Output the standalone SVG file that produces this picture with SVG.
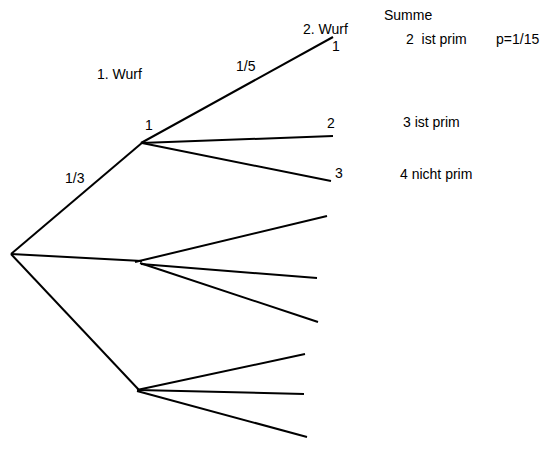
<svg xmlns="http://www.w3.org/2000/svg" width="553" height="449" viewBox="0 0 553 449">
<style>
.l{stroke:#000;stroke-width:2;fill:none;stroke-linecap:butt}
text{font-family:"Liberation Sans",Arial,sans-serif;font-size:14px;fill:#000;white-space:pre}
</style>
<rect width="553" height="449" fill="#fff"/>
<g id="connectors">
<line class="l" x1="11" y1="254" x2="143" y2="142"/>
<line class="l" x1="11" y1="254" x2="142" y2="261"/>
<line class="l" x1="11" y1="254" x2="139" y2="390"/>
<line class="l" x1="141" y1="143" x2="333" y2="37"/>
<line class="l" x1="141" y1="143" x2="333" y2="136"/>
<line class="l" x1="142" y1="143" x2="331" y2="181"/>
<line class="l" x1="135" y1="262" x2="327" y2="216"/>
<line class="l" x1="141" y1="264" x2="317" y2="278"/>
<line class="l" x1="140" y1="263" x2="318" y2="322"/>
<line class="l" x1="137" y1="390" x2="305" y2="354"/>
<line class="l" x1="138" y1="390" x2="304" y2="394"/>
<line class="l" x1="137" y1="391" x2="307" y2="437"/>
</g>
<g id="labels">
<text x="384" y="20">Summe</text>
<text x="303" y="34">2. Wurf</text>
<text x="332" y="51">1</text>
<text x="406" y="44" xml:space="preserve">2  ist prim</text>
<text x="496" y="44">p=1/15</text>
<text x="97" y="79">1. Wurf</text>
<text x="236" y="71">1/5</text>
<text x="145" y="130">1</text>
<text x="327" y="128">2</text>
<text x="403" y="127">3 ist prim</text>
<text x="335" y="178">3</text>
<text x="400" y="179">4 nicht prim</text>
<text x="65" y="183">1/3</text>
</g>
</svg>
